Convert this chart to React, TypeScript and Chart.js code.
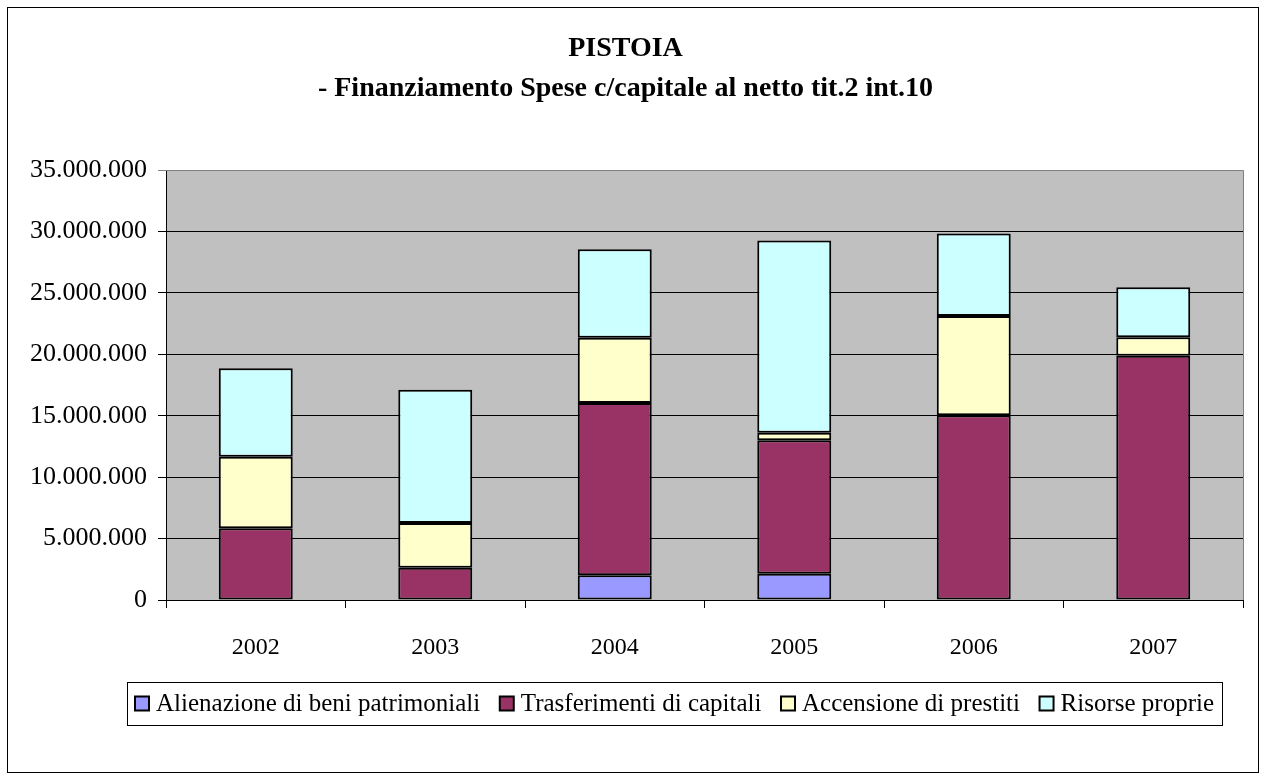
import React, { useEffect, useRef } from "react";
import { Chart, registerables } from "chart.js";

Chart.register(...registerables);

const categories = ["2002", "2003", "2004", "2005", "2006", "2007"];
const alienazione = [0, 0, 2010000, 2140000, 0, 0];
const trasferimenti = [5830000, 2630000, 14020000, 10860000, 15030000, 19890000];
const accensione = [5830000, 3640000, 5320000, 620000, 8090000, 1490000];
const risorse = [7200000, 10850000, 7190000, 15650000, 6720000, 4070000];

const seriesNames = [
  "Alienazione di beni patrimoniali",
  "Trasferimenti di capitali",
  "Accensione di prestiti",
  "Risorse proprie",
];
const seriesColors = ["#9999FF", "#993366", "#FFFFCC", "#CCFFFF"];
const titleLines = ["PISTOIA", "- Finanziamento Spese c/capitale al netto tit.2 int.10"];
const yMax = 35000000;
const yStep = 5000000;

const FONT = '"Liberation Serif", "Times New Roman", serif';

function fmt(v: number): string {
  return Math.round(v).toString().replace(/\B(?=(\d{3})+(?!\d))/g, ".");
}

const plotBgPlugin = {
  id: "plotBg",
  beforeDraw(chart: any) {
    const { ctx, chartArea } = chart;
    ctx.save();
    ctx.fillStyle = "#C0C0C0";
    ctx.fillRect(chartArea.left, chartArea.top, chartArea.right - chartArea.left, chartArea.bottom - chartArea.top);
    ctx.restore();
  },
  beforeDatasetsDraw(chart: any) {
    const { ctx, chartArea } = chart;
    ctx.save();
    ctx.strokeStyle = "#808080";
    ctx.lineWidth = 1;
    ctx.beginPath();
    ctx.moveTo(chartArea.left, chartArea.top + 0.5);
    ctx.lineTo(chartArea.right + 0.5, chartArea.top + 0.5);
    ctx.lineTo(chartArea.right + 0.5, chartArea.bottom);
    ctx.stroke();
    ctx.restore();
  },
};

const legendBoxPlugin = {
  id: "legendBox",
  afterDraw(chart: any) {
    const { ctx } = chart;
    const datasets = chart.data.datasets;
    ctx.save();
    ctx.font = "25px " + FONT;
    const marker = 14;
    const gapText = 7;
    const boxLeft = 119;
    const boxRight = 1214;
    const boxTop = 674;
    const boxBottom = 717;
    const innerPad = 8;
    const widths = datasets.map((d: any) => ctx.measureText(d.label).width);
    const contentTarget = boxRight - boxLeft - innerPad * 2;
    const base = widths.reduce((a: number, b: number) => a + b, 0) + datasets.length * (marker + gapText);
    const itemGap = Math.max(4, (contentTarget - base) / (datasets.length - 1));
    const content = base + itemGap * (datasets.length - 1);
    const cx = (boxLeft + boxRight) / 2;
    let x = cx - content / 2;
    const cy = (boxTop + boxBottom) / 2;
    ctx.strokeStyle = "#000";
    ctx.lineWidth = 1;
    ctx.strokeRect(boxLeft + 0.5, boxTop + 0.5, boxRight - boxLeft, boxBottom - boxTop);
    ctx.textBaseline = "middle";
    ctx.textAlign = "left";
    datasets.forEach((d: any, i: number) => {
      ctx.fillStyle = d.backgroundColor;
      ctx.fillRect(x, cy - marker / 2, marker, marker);
      ctx.strokeStyle = "#000";
      ctx.lineWidth = 2;
      ctx.strokeRect(x, cy - marker / 2, marker, marker);
      ctx.fillStyle = "#000";
      ctx.fillText(d.label, x + marker + gapText, cy + 1);
      x += marker + gapText + widths[i] + itemGap;
    });
    ctx.restore();
  },
};

export default function App() {
  const canvasRef = useRef<HTMLCanvasElement | null>(null);

  useEffect(() => {
    if (!canvasRef.current) return;
    const seriesData = [alienazione, trasferimenti, accensione, risorse];
    const chart = new Chart(canvasRef.current, {
      type: "bar",
      data: {
        labels: categories,
        datasets: seriesData.map((data, i) => ({
          label: seriesNames[i],
          data,
          backgroundColor: seriesColors[i],
          borderColor: "#000000",
          borderWidth: 2,
          borderSkipped: false,
          barPercentage: 0.412,
          categoryPercentage: 1,
        })),
      },
      options: {
        animation: false,
        responsive: false,
        maintainAspectRatio: false,
        layout: { padding: { left: 0, right: 15, top: 0, bottom: 110 } },
        plugins: {
          legend: { display: false },
          tooltip: { enabled: false },
          title: {
            display: true,
            text: titleLines,
            color: "#000",
            font: { family: FONT, size: 28, weight: "bold", lineHeight: 40 / 28 },
            padding: { top: 21, bottom: 61 },
          },
        },
        scales: {
          x: {
            stacked: true,
            offset: true,
            grid: {
              offset: true,
              drawOnChartArea: false,
              drawTicks: true,
              tickLength: 8,
              color: "#000",
            },
            border: { color: "#000", width: 1 },
            ticks: {
              color: "#000",
              font: { family: FONT, size: 24 },
              padding: 25,
            },
            afterFit(scale: any) {
              scale.height = 62;
            },
          },
          y: {
            stacked: true,
            min: 0,
            max: yMax,
            grid: {
              color: (c: any) => (c.tick && c.tick.value === yMax ? "#808080" : "#000"),
              lineWidth: 1,
              tickLength: 8,
            },
            border: { color: "#000", width: 1 },
            ticks: {
              stepSize: yStep,
              color: "#000",
              font: { family: FONT, size: 26 },
              padding: 11,
              callback: (v: any) => fmt(Number(v)),
            },
            afterFit(scale: any) {
              scale.width = 158;
            },
          },
        },
      },
      plugins: [plotBgPlugin, legendBoxPlugin],
    });
    return () => chart.destroy();
  }, []);

  return (
    <div
      style={{
        position: "absolute",
        left: 7,
        top: 7,
        width: 1252,
        height: 766,
        border: "1px solid #000",
        boxSizing: "border-box",
        background: "#fff",
      }}
    >
      <canvas ref={canvasRef} width={1250} height={764} style={{ display: "block", width: 1250, height: 764 }} />
    </div>
  );
}
